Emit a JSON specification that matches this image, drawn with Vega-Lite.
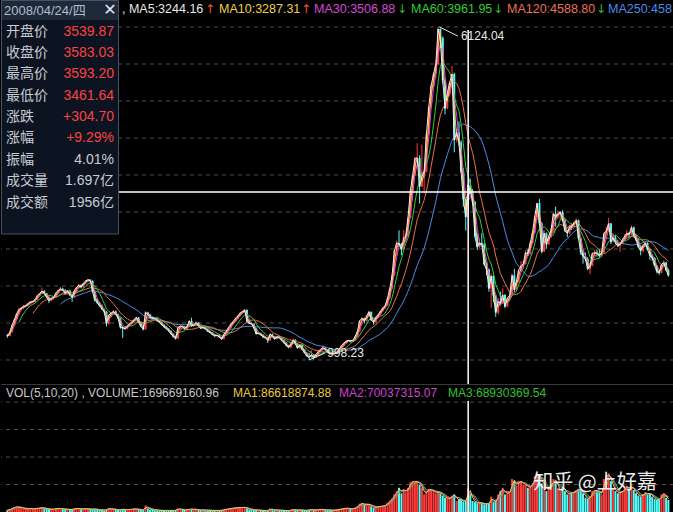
{
"$schema":"https://vega.github.io/schema/vega-lite/v6.json",
"background":"#000000","padding":0,"spacing":0,"bounds":"flush",
"datasets":{"k":[
{"d":"1999-12-23","o":1380,"h":1400,"l":1341,"c":1366,"v":8},
{"d":"2000-01-08","o":1366,"h":1440,"l":1361,"c":1425,"v":12},
{"d":"2000-01-23","o":1425,"h":1545,"l":1420,"c":1535,"v":18},
{"d":"2000-02-08","o":1535,"h":1640,"l":1530,"c":1625,"v":22},
{"d":"2000-02-23","o":1625,"h":1720,"l":1610,"c":1714,"v":24},
{"d":"2000-03-08","o":1714,"h":1795,"l":1690,"c":1775,"v":22},
{"d":"2000-03-23","o":1775,"h":1815,"l":1760,"c":1800,"v":18},
{"d":"2000-04-08","o":1800,"h":1840,"l":1780,"c":1825,"v":16},
{"d":"2000-04-23","o":1825,"h":1850,"l":1805,"c":1836,"v":14},
{"d":"2000-05-08","o":1836,"h":1880,"l":1820,"c":1868,"v":15},
{"d":"2000-05-23","o":1868,"h":1905,"l":1850,"c":1894,"v":16},
{"d":"2000-06-08","o":1894,"h":1915,"l":1870,"c":1898,"v":14},
{"d":"2000-06-23","o":1898,"h":1935,"l":1885,"c":1928,"v":15},
{"d":"2000-07-08","o":1928,"h":2000,"l":1920,"c":1990,"v":18},
{"d":"2000-07-23","o":1990,"h":2030,"l":1975,"c":2023,"v":18},
{"d":"2000-08-08","o":2023,"h":2114,"l":2015,"c":2060,"v":20},
{"d":"2000-08-23","o":2060,"h":2075,"l":2005,"c":2022,"v":16},
{"d":"2000-09-08","o":2022,"h":2030,"l":1950,"c":1962,"v":14},
{"d":"2000-09-23","o":1962,"h":1975,"l":1874,"c":1910,"v":12},
{"d":"2000-10-08","o":1910,"h":1960,"l":1900,"c":1948,"v":12},
{"d":"2000-10-23","o":1948,"h":1975,"l":1930,"c":1961,"v":13},
{"d":"2000-11-08","o":1961,"h":2040,"l":1955,"c":2030,"v":16},
{"d":"2000-11-23","o":2030,"h":2080,"l":2020,"c":2070,"v":17},
{"d":"2000-12-08","o":2070,"h":2125,"l":2060,"c":2095,"v":15},
{"d":"2000-12-23","o":2095,"h":2110,"l":2060,"c":2073,"v":13},
{"d":"2001-01-08","o":2073,"h":2090,"l":2000,"c":2020,"v":12},
{"d":"2001-01-23","o":2020,"h":2070,"l":2010,"c":2065,"v":12},
{"d":"2001-02-08","o":2065,"h":2080,"l":1990,"c":1995,"v":11},
{"d":"2001-02-23","o":1995,"h":2000,"l":1893,"c":1960,"v":12},
{"d":"2001-03-08","o":1960,"h":2070,"l":1955,"c":2060,"v":15},
{"d":"2001-03-23","o":2060,"h":2120,"l":2050,"c":2112,"v":16},
{"d":"2001-04-08","o":2112,"h":2170,"l":2100,"c":2150,"v":16},
{"d":"2001-04-23","o":2150,"h":2165,"l":2100,"c":2119,"v":13},
{"d":"2001-05-08","o":2119,"h":2190,"l":2110,"c":2180,"v":14},
{"d":"2001-05-23","o":2180,"h":2225,"l":2170,"c":2214,"v":15},
{"d":"2001-06-08","o":2214,"h":2245,"l":2200,"c":2235,"v":14},
{"d":"2001-06-23","o":2235,"h":2240,"l":2190,"c":2218,"v":12},
{"d":"2001-07-08","o":2218,"h":2220,"l":2030,"c":2050,"v":13},
{"d":"2001-07-23","o":2050,"h":2065,"l":1900,"c":1920,"v":14},
{"d":"2001-08-08","o":1920,"h":1940,"l":1860,"c":1880,"v":10},
{"d":"2001-08-23","o":1880,"h":1895,"l":1820,"c":1834,"v":9},
{"d":"2001-09-08","o":1834,"h":1850,"l":1770,"c":1780,"v":9},
{"d":"2001-09-23","o":1780,"h":1790,"l":1720,"c":1741,"v":8},
{"d":"2001-10-08","o":1741,"h":1750,"l":1514,"c":1560,"v":11},
{"d":"2001-10-23","o":1560,"h":1700,"l":1540,"c":1690,"v":18},
{"d":"2001-11-08","o":1690,"h":1730,"l":1670,"c":1720,"v":13},
{"d":"2001-11-23","o":1720,"h":1765,"l":1705,"c":1747,"v":12},
{"d":"2001-12-08","o":1747,"h":1760,"l":1690,"c":1700,"v":10},
{"d":"2001-12-23","o":1700,"h":1710,"l":1630,"c":1646,"v":9},
{"d":"2002-01-08","o":1646,"h":1650,"l":1480,"c":1500,"v":11},
{"d":"2002-01-23","o":1500,"h":1510,"l":1339,"c":1491,"v":14},
{"d":"2002-02-08","o":1491,"h":1520,"l":1460,"c":1480,"v":10},
{"d":"2002-02-23","o":1480,"h":1535,"l":1470,"c":1524,"v":10},
{"d":"2002-03-08","o":1524,"h":1560,"l":1510,"c":1550,"v":12},
{"d":"2002-03-23","o":1550,"h":1590,"l":1540,"c":1580,"v":13},
{"d":"2002-04-08","o":1580,"h":1630,"l":1570,"c":1620,"v":14},
{"d":"2002-04-23","o":1620,"h":1665,"l":1610,"c":1654,"v":13},
{"d":"2002-05-08","o":1654,"h":1660,"l":1570,"c":1580,"v":11},
{"d":"2002-05-23","o":1580,"h":1590,"l":1505,"c":1516,"v":10},
{"d":"2002-06-08","o":1516,"h":1525,"l":1455,"c":1470,"v":9},
{"d":"2002-06-23","o":1470,"h":1748,"l":1465,"c":1732,"v":30},
{"d":"2002-07-08","o":1732,"h":1740,"l":1690,"c":1700,"v":16},
{"d":"2002-07-23","o":1700,"h":1710,"l":1640,"c":1651,"v":11},
{"d":"2002-08-08","o":1651,"h":1665,"l":1625,"c":1640,"v":10},
{"d":"2002-08-23","o":1640,"h":1660,"l":1620,"c":1637,"v":9},
{"d":"2002-09-08","o":1637,"h":1645,"l":1590,"c":1600,"v":8},
{"d":"2002-09-23","o":1600,"h":1610,"l":1570,"c":1581,"v":7},
{"d":"2002-10-08","o":1581,"h":1590,"l":1530,"c":1540,"v":7},
{"d":"2002-10-23","o":1540,"h":1550,"l":1495,"c":1507,"v":7},
{"d":"2002-11-08","o":1507,"h":1520,"l":1470,"c":1480,"v":7},
{"d":"2002-11-23","o":1480,"h":1490,"l":1435,"c":1445,"v":7},
{"d":"2002-12-08","o":1445,"h":1455,"l":1390,"c":1400,"v":7},
{"d":"2002-12-23","o":1400,"h":1410,"l":1345,"c":1357,"v":7},
{"d":"2003-01-08","o":1357,"h":1370,"l":1311,"c":1330,"v":8},
{"d":"2003-01-23","o":1330,"h":1510,"l":1325,"c":1499,"v":16},
{"d":"2003-02-08","o":1499,"h":1530,"l":1490,"c":1520,"v":13},
{"d":"2003-02-23","o":1520,"h":1530,"l":1495,"c":1512,"v":10},
{"d":"2003-03-08","o":1512,"h":1520,"l":1470,"c":1480,"v":9},
{"d":"2003-03-23","o":1480,"h":1520,"l":1465,"c":1510,"v":10},
{"d":"2003-04-08","o":1510,"h":1615,"l":1505,"c":1600,"v":14},
{"d":"2003-04-23","o":1600,"h":1649,"l":1510,"c":1521,"v":13},
{"d":"2003-05-08","o":1521,"h":1550,"l":1510,"c":1540,"v":11},
{"d":"2003-05-23","o":1540,"h":1590,"l":1530,"c":1576,"v":12},
{"d":"2003-06-08","o":1576,"h":1580,"l":1510,"c":1520,"v":9},
{"d":"2003-06-23","o":1520,"h":1530,"l":1475,"c":1487,"v":8},
{"d":"2003-07-08","o":1487,"h":1515,"l":1480,"c":1500,"v":9},
{"d":"2003-07-23","o":1500,"h":1510,"l":1465,"c":1477,"v":8},
{"d":"2003-08-08","o":1477,"h":1485,"l":1430,"c":1440,"v":8},
{"d":"2003-08-23","o":1440,"h":1450,"l":1410,"c":1421,"v":7},
{"d":"2003-09-08","o":1421,"h":1430,"l":1380,"c":1390,"v":7},
{"d":"2003-09-23","o":1390,"h":1400,"l":1355,"c":1367,"v":7},
{"d":"2003-10-08","o":1367,"h":1395,"l":1360,"c":1380,"v":7},
{"d":"2003-10-23","o":1380,"h":1390,"l":1340,"c":1348,"v":7},
{"d":"2003-11-08","o":1348,"h":1355,"l":1307,"c":1320,"v":8},
{"d":"2003-11-23","o":1320,"h":1405,"l":1315,"c":1397,"v":11},
{"d":"2003-12-08","o":1397,"h":1450,"l":1390,"c":1440,"v":13},
{"d":"2003-12-23","o":1440,"h":1505,"l":1430,"c":1497,"v":15},
{"d":"2004-01-08","o":1497,"h":1560,"l":1490,"c":1550,"v":17},
{"d":"2004-01-23","o":1550,"h":1600,"l":1540,"c":1590,"v":17},
{"d":"2004-02-08","o":1590,"h":1650,"l":1580,"c":1640,"v":20},
{"d":"2004-02-23","o":1640,"h":1685,"l":1630,"c":1675,"v":20},
{"d":"2004-03-08","o":1675,"h":1730,"l":1660,"c":1720,"v":21},
{"d":"2004-03-23","o":1720,"h":1755,"l":1700,"c":1742,"v":20},
{"d":"2004-04-08","o":1742,"h":1783,"l":1730,"c":1770,"v":22},
{"d":"2004-04-23","o":1770,"h":1775,"l":1580,"c":1595,"v":16},
{"d":"2004-05-08","o":1595,"h":1610,"l":1550,"c":1560,"v":11},
{"d":"2004-05-23","o":1560,"h":1580,"l":1540,"c":1555,"v":10},
{"d":"2004-06-08","o":1555,"h":1560,"l":1480,"c":1490,"v":9},
{"d":"2004-06-23","o":1490,"h":1495,"l":1390,"c":1400,"v":9},
{"d":"2004-07-08","o":1400,"h":1425,"l":1390,"c":1410,"v":8},
{"d":"2004-07-23","o":1410,"h":1420,"l":1375,"c":1386,"v":7},
{"d":"2004-08-08","o":1386,"h":1395,"l":1340,"c":1350,"v":7},
{"d":"2004-08-23","o":1350,"h":1365,"l":1330,"c":1342,"v":6},
{"d":"2004-09-08","o":1342,"h":1350,"l":1259,"c":1300,"v":7},
{"d":"2004-09-23","o":1300,"h":1410,"l":1295,"c":1396,"v":16},
{"d":"2004-10-08","o":1396,"h":1405,"l":1350,"c":1360,"v":10},
{"d":"2004-10-23","o":1360,"h":1370,"l":1310,"c":1320,"v":8},
{"d":"2004-11-08","o":1320,"h":1370,"l":1315,"c":1360,"v":9},
{"d":"2004-11-23","o":1360,"h":1370,"l":1330,"c":1340,"v":8},
{"d":"2004-12-08","o":1340,"h":1345,"l":1290,"c":1300,"v":7},
{"d":"2004-12-23","o":1300,"h":1310,"l":1255,"c":1266,"v":7},
{"d":"2005-01-08","o":1266,"h":1275,"l":1210,"c":1220,"v":6},
{"d":"2005-01-23","o":1220,"h":1230,"l":1180,"c":1191,"v":7},
{"d":"2005-02-08","o":1191,"h":1260,"l":1176,"c":1250,"v":9},
{"d":"2005-02-23","o":1250,"h":1330,"l":1245,"c":1306,"v":12},
{"d":"2005-03-08","o":1306,"h":1320,"l":1240,"c":1250,"v":9},
{"d":"2005-03-23","o":1250,"h":1260,"l":1175,"c":1181,"v":8},
{"d":"2005-04-08","o":1181,"h":1240,"l":1170,"c":1230,"v":9},
{"d":"2005-04-23","o":1230,"h":1240,"l":1150,"c":1159,"v":8},
{"d":"2005-05-08","o":1159,"h":1165,"l":1100,"c":1110,"v":7},
{"d":"2005-05-23","o":1110,"h":1120,"l":1050,"c":1060,"v":7},
{"d":"2005-06-08","o":1060,"h":1110,"l":998.23,"c":1040,"v":10},
{"d":"2005-06-23","o":1040,"h":1150,"l":1030,"c":1080,"v":12},
{"d":"2005-07-08","o":1080,"h":1090,"l":1004,"c":1030,"v":8},
{"d":"2005-07-23","o":1030,"h":1090,"l":1025,"c":1083,"v":9},
{"d":"2005-08-08","o":1083,"h":1140,"l":1075,"c":1130,"v":11},
{"d":"2005-08-23","o":1130,"h":1170,"l":1120,"c":1162,"v":12},
{"d":"2005-09-08","o":1162,"h":1223,"l":1155,"c":1190,"v":12},
{"d":"2005-09-23","o":1190,"h":1195,"l":1145,"c":1155,"v":9},
{"d":"2005-10-08","o":1155,"h":1160,"l":1110,"c":1120,"v":8},
{"d":"2005-10-23","o":1120,"h":1130,"l":1085,"c":1092,"v":8},
{"d":"2005-11-08","o":1092,"h":1100,"l":1074,"c":1090,"v":8},
{"d":"2005-11-23","o":1090,"h":1110,"l":1080,"c":1099,"v":8},
{"d":"2005-12-08","o":1099,"h":1130,"l":1095,"c":1120,"v":10},
{"d":"2005-12-23","o":1120,"h":1170,"l":1115,"c":1161,"v":12},
{"d":"2006-01-08","o":1161,"h":1230,"l":1158,"c":1220,"v":15},
{"d":"2006-01-23","o":1220,"h":1265,"l":1210,"c":1258,"v":16},
{"d":"2006-02-08","o":1258,"h":1300,"l":1250,"c":1290,"v":18},
{"d":"2006-02-23","o":1290,"h":1310,"l":1275,"c":1299,"v":16},
{"d":"2006-03-08","o":1299,"h":1305,"l":1270,"c":1290,"v":14},
{"d":"2006-03-23","o":1290,"h":1305,"l":1280,"c":1298,"v":14},
{"d":"2006-04-08","o":1298,"h":1370,"l":1295,"c":1360,"v":20},
{"d":"2006-04-23","o":1360,"h":1445,"l":1355,"c":1440,"v":26},
{"d":"2006-05-08","o":1440,"h":1610,"l":1435,"c":1600,"v":38},
{"d":"2006-05-23","o":1600,"h":1660,"l":1540,"c":1641,"v":40},
{"d":"2006-06-08","o":1641,"h":1650,"l":1560,"c":1600,"v":32},
{"d":"2006-06-23","o":1600,"h":1690,"l":1590,"c":1672,"v":34},
{"d":"2006-07-08","o":1672,"h":1757,"l":1665,"c":1740,"v":36},
{"d":"2006-07-23","o":1740,"h":1745,"l":1600,"c":1612,"v":26},
{"d":"2006-08-08","o":1612,"h":1620,"l":1541,"c":1580,"v":20},
{"d":"2006-08-23","o":1580,"h":1665,"l":1575,"c":1658,"v":22},
{"d":"2006-09-08","o":1658,"h":1710,"l":1650,"c":1700,"v":25},
{"d":"2006-09-23","o":1700,"h":1760,"l":1690,"c":1752,"v":26},
{"d":"2006-10-08","o":1752,"h":1810,"l":1745,"c":1800,"v":28},
{"d":"2006-10-23","o":1800,"h":1845,"l":1790,"c":1837,"v":30},
{"d":"2006-11-08","o":1837,"h":1960,"l":1830,"c":1950,"v":42},
{"d":"2006-11-23","o":1950,"h":2110,"l":1940,"c":2099,"v":52},
{"d":"2006-12-08","o":2099,"h":2310,"l":2090,"c":2300,"v":62},
{"d":"2006-12-23","o":2300,"h":2698,"l":2290,"c":2675,"v":80},
{"d":"2007-01-08","o":2675,"h":2840,"l":2600,"c":2800,"v":95},
{"d":"2007-01-23","o":2800,"h":2994,"l":2740,"c":2786,"v":110},
{"d":"2007-02-08","o":2786,"h":2800,"l":2612,"c":2700,"v":85},
{"d":"2007-02-23","o":2700,"h":2998,"l":2690,"c":2881,"v":105},
{"d":"2007-03-08","o":2881,"h":2940,"l":2830,"c":2900,"v":90},
{"d":"2007-03-23","o":2900,"h":3200,"l":2890,"c":3183,"v":110},
{"d":"2007-04-08","o":3183,"h":3620,"l":3180,"c":3600,"v":135},
{"d":"2007-04-23","o":3600,"h":3860,"l":3450,"c":3841,"v":140},
{"d":"2007-05-08","o":3841,"h":4120,"l":3830,"c":4100,"v":135},
{"d":"2007-05-23","o":4100,"h":4335,"l":4080,"c":4109,"v":140},
{"d":"2007-06-08","o":4109,"h":4150,"l":3404,"c":3670,"v":125},
{"d":"2007-06-23","o":3670,"h":4312,"l":3660,"c":3820,"v":110},
{"d":"2007-07-08","o":3820,"h":3920,"l":3563,"c":3900,"v":80},
{"d":"2007-07-23","o":3900,"h":4490,"l":3890,"c":4471,"v":95},
{"d":"2007-08-08","o":4471,"h":4910,"l":4460,"c":4900,"v":105},
{"d":"2007-08-23","o":4900,"h":5240,"l":4870,"c":5218,"v":100},
{"d":"2007-09-08","o":5218,"h":5420,"l":5200,"c":5400,"v":95},
{"d":"2007-09-23","o":5400,"h":5570,"l":5340,"c":5552,"v":85},
{"d":"2007-10-08","o":5552,"h":6124.04,"l":5540,"c":6092,"v":95},
{"d":"2007-10-23","o":6092,"h":6100,"l":5800,"c":5954,"v":85},
{"d":"2007-11-08","o":5954,"h":5980,"l":5250,"c":5300,"v":75},
{"d":"2007-11-23","o":5300,"h":5320,"l":4778,"c":4871,"v":65},
{"d":"2007-12-08","o":4871,"h":5120,"l":4860,"c":5100,"v":62},
{"d":"2007-12-23","o":5100,"h":5280,"l":5050,"c":5261,"v":60},
{"d":"2008-01-08","o":5261,"h":5522,"l":5250,"c":5400,"v":75},
{"d":"2008-01-23","o":5400,"h":5420,"l":4195,"c":4383,"v":80},
{"d":"2008-02-08","o":4383,"h":4560,"l":4350,"c":4500,"v":50},
{"d":"2008-02-23","o":4500,"h":4670,"l":4300,"c":4348,"v":58},
{"d":"2008-03-08","o":4348,"h":4380,"l":3880,"c":3900,"v":55},
{"d":"2008-03-23","o":3900,"h":3950,"l":3357,"c":3472,"v":48},
{"d":"2008-04-08","o":3472,"h":3500,"l":2990,"c":3200,"v":50},
{"d":"2008-04-23","o":3200,"h":3700,"l":3180,"c":3693,"v":110},
{"d":"2008-05-08","o":3693,"h":3786,"l":3550,"c":3600,"v":85},
{"d":"2008-05-23","o":3600,"h":3630,"l":3380,"c":3433,"v":50},
{"d":"2008-06-08","o":3433,"h":3440,"l":2880,"c":2900,"v":45},
{"d":"2008-06-23","o":2900,"h":2950,"l":2693,"c":2736,"v":40},
{"d":"2008-07-08","o":2736,"h":2870,"l":2720,"c":2800,"v":42},
{"d":"2008-07-23","o":2800,"h":2952,"l":2750,"c":2775,"v":40},
{"d":"2008-08-08","o":2775,"h":2800,"l":2450,"c":2470,"v":35},
{"d":"2008-08-23","o":2470,"h":2500,"l":2300,"c":2397,"v":38},
{"d":"2008-09-08","o":2397,"h":2400,"l":2050,"c":2100,"v":40},
{"d":"2008-09-23","o":2100,"h":2333,"l":1802,"c":2293,"v":70},
{"d":"2008-10-08","o":2293,"h":2300,"l":1890,"c":1990,"v":45},
{"d":"2008-10-23","o":1990,"h":2000,"l":1664,"c":1729,"v":50},
{"d":"2008-11-08","o":1729,"h":1950,"l":1700,"c":1900,"v":80},
{"d":"2008-11-23","o":1900,"h":2050,"l":1850,"c":1871,"v":95},
{"d":"2008-12-08","o":1871,"h":2100,"l":1860,"c":2000,"v":110},
{"d":"2008-12-23","o":2000,"h":2010,"l":1800,"c":1821,"v":80},
{"d":"2009-01-08","o":1821,"h":1960,"l":1814,"c":1950,"v":90},
{"d":"2009-01-23","o":1950,"h":2000,"l":1900,"c":1991,"v":85},
{"d":"2009-02-08","o":1991,"h":2330,"l":1985,"c":2300,"v":150},
{"d":"2009-02-23","o":2300,"h":2402,"l":2037,"c":2082,"v":140},
{"d":"2009-03-08","o":2082,"h":2220,"l":2070,"c":2200,"v":120},
{"d":"2009-03-23","o":2200,"h":2390,"l":2190,"c":2373,"v":140},
{"d":"2009-04-08","o":2373,"h":2520,"l":2360,"c":2450,"v":140},
{"d":"2009-04-23","o":2450,"h":2530,"l":2400,"c":2477,"v":125},
{"d":"2009-05-08","o":2477,"h":2690,"l":2470,"c":2650,"v":125},
{"d":"2009-05-23","o":2650,"h":2700,"l":2600,"c":2633,"v":110},
{"d":"2009-06-08","o":2633,"h":2820,"l":2620,"c":2800,"v":115},
{"d":"2009-06-23","o":2800,"h":2970,"l":2790,"c":2959,"v":130},
{"d":"2009-07-08","o":2959,"h":3220,"l":2950,"c":3200,"v":160},
{"d":"2009-07-23","o":3200,"h":3420,"l":3150,"c":3412,"v":175},
{"d":"2009-08-08","o":3412,"h":3478,"l":3080,"c":3100,"v":165},
{"d":"2009-08-23","o":3100,"h":3120,"l":2639,"c":2667,"v":130},
{"d":"2009-09-08","o":2667,"h":3000,"l":2660,"c":2950,"v":125},
{"d":"2009-09-23","o":2950,"h":2960,"l":2712,"c":2779,"v":95},
{"d":"2009-10-08","o":2779,"h":2920,"l":2770,"c":2900,"v":110},
{"d":"2009-10-23","o":2900,"h":3030,"l":2880,"c":2996,"v":120},
{"d":"2009-11-08","o":2996,"h":3260,"l":2990,"c":3250,"v":150},
{"d":"2009-11-23","o":3250,"h":3361,"l":3050,"c":3195,"v":140},
{"d":"2009-12-08","o":3195,"h":3300,"l":3170,"c":3250,"v":110},
{"d":"2009-12-23","o":3250,"h":3290,"l":3140,"c":3277,"v":95},
{"d":"2010-01-08","o":3277,"h":3306,"l":3130,"c":3150,"v":115},
{"d":"2010-01-23","o":3150,"h":3170,"l":2970,"c":2989,"v":95},
{"d":"2010-02-08","o":2989,"h":3000,"l":2890,"c":2950,"v":80},
{"d":"2010-02-23","o":2950,"h":3080,"l":2940,"c":3051,"v":85},
{"d":"2010-03-08","o":3051,"h":3100,"l":3000,"c":3050,"v":90},
{"d":"2010-03-23","o":3050,"h":3120,"l":3010,"c":3109,"v":90},
{"d":"2010-04-08","o":3109,"h":3181,"l":3090,"c":3150,"v":100},
{"d":"2010-04-23","o":3150,"h":3160,"l":2850,"c":2870,"v":105},
{"d":"2010-05-08","o":2870,"h":2880,"l":2620,"c":2650,"v":95},
{"d":"2010-05-23","o":2650,"h":2700,"l":2481,"c":2592,"v":85},
{"d":"2010-06-08","o":2592,"h":2650,"l":2530,"c":2550,"v":65},
{"d":"2010-06-23","o":2550,"h":2580,"l":2380,"c":2398,"v":60},
{"d":"2010-07-08","o":2398,"h":2480,"l":2319,"c":2450,"v":65},
{"d":"2010-07-23","o":2450,"h":2650,"l":2440,"c":2638,"v":95},
{"d":"2010-08-08","o":2638,"h":2700,"l":2600,"c":2650,"v":100},
{"d":"2010-08-23","o":2650,"h":2700,"l":2590,"c":2638,"v":95},
{"d":"2010-09-08","o":2638,"h":2700,"l":2570,"c":2600,"v":90},
{"d":"2010-09-23","o":2600,"h":2670,"l":2580,"c":2656,"v":80},
{"d":"2010-10-08","o":2656,"h":2960,"l":2650,"c":2950,"v":150},
{"d":"2010-10-23","o":2950,"h":3050,"l":2920,"c":2979,"v":165},
{"d":"2010-11-08","o":2979,"h":3186,"l":2970,"c":3100,"v":175},
{"d":"2010-11-23","o":3100,"h":3110,"l":2780,"c":2820,"v":140},
{"d":"2010-12-08","o":2820,"h":2940,"l":2810,"c":2880,"v":110},
{"d":"2010-12-23","o":2880,"h":2920,"l":2780,"c":2808,"v":95},
{"d":"2011-01-08","o":2808,"h":2850,"l":2740,"c":2750,"v":85},
{"d":"2011-01-23","o":2750,"h":2800,"l":2661,"c":2790,"v":90},
{"d":"2011-02-08","o":2790,"h":2870,"l":2780,"c":2850,"v":95},
{"d":"2011-02-23","o":2850,"h":2940,"l":2830,"c":2905,"v":110},
{"d":"2011-03-08","o":2905,"h":3000,"l":2890,"c":2950,"v":120},
{"d":"2011-03-23","o":2950,"h":2970,"l":2880,"c":2928,"v":100},
{"d":"2011-04-08","o":2928,"h":3067,"l":2920,"c":3040,"v":120},
{"d":"2011-04-23","o":3040,"h":3050,"l":2890,"c":2911,"v":100},
{"d":"2011-05-08","o":2911,"h":2920,"l":2830,"c":2850,"v":85},
{"d":"2011-05-23","o":2850,"h":2870,"l":2720,"c":2743,"v":75},
{"d":"2011-06-08","o":2743,"h":2760,"l":2610,"c":2680,"v":70},
{"d":"2011-06-23","o":2680,"h":2780,"l":2650,"c":2762,"v":80},
{"d":"2011-07-08","o":2762,"h":2826,"l":2740,"c":2800,"v":90},
{"d":"2011-07-23","o":2800,"h":2810,"l":2690,"c":2701,"v":80},
{"d":"2011-08-08","o":2701,"h":2710,"l":2540,"c":2600,"v":85},
{"d":"2011-08-23","o":2600,"h":2630,"l":2530,"c":2568,"v":70},
{"d":"2011-09-08","o":2568,"h":2580,"l":2440,"c":2450,"v":60},
{"d":"2011-09-23","o":2450,"h":2460,"l":2330,"c":2359,"v":55},
{"d":"2011-10-08","o":2359,"h":2380,"l":2307,"c":2340,"v":55},
{"d":"2011-10-23","o":2340,"h":2480,"l":2330,"c":2468,"v":80},
{"d":"2011-11-08","o":2468,"h":2536,"l":2450,"c":2500,"v":85},
{"d":"2011-11-23","o":2500,"h":2510,"l":2370,"c":2380,"v":65},
{"d":"2011-12-08","o":2380,"h":2400,"l":2280,"c":2300,"v":55}
]},
"vconcat":[
{
"width":673,"height":384,
"data":{"name":"k"},
"layer":[
{"data":{"values":[{}]},
 "layer":[
  {"mark":{"type":"rule","stroke":"#4e4e4e","strokeWidth":1,"strokeDash":[4,4]},"encoding":{"y":{"datum":998.23,"type":"quantitative","axis":null,"scale":{"domain":[628.8,6539.2],"nice":false,"zero":false}}}},
  {"mark":{"type":"rule","stroke":"#4e4e4e","strokeWidth":1,"strokeDash":[4,4]},"encoding":{"y":{"datum":1567.76,"type":"quantitative","axis":null,"scale":{"domain":[628.8,6539.2],"nice":false,"zero":false}}}},
  {"mark":{"type":"rule","stroke":"#4e4e4e","strokeWidth":1,"strokeDash":[4,4]},"encoding":{"y":{"datum":2137.3,"type":"quantitative","axis":null,"scale":{"domain":[628.8,6539.2],"nice":false,"zero":false}}}},
  {"mark":{"type":"rule","stroke":"#4e4e4e","strokeWidth":1,"strokeDash":[4,4]},"encoding":{"y":{"datum":2706.83,"type":"quantitative","axis":null,"scale":{"domain":[628.8,6539.2],"nice":false,"zero":false}}}},
  {"mark":{"type":"rule","stroke":"#4e4e4e","strokeWidth":1,"strokeDash":[4,4]},"encoding":{"y":{"datum":3276.37,"type":"quantitative","axis":null,"scale":{"domain":[628.8,6539.2],"nice":false,"zero":false}}}},
  {"mark":{"type":"rule","stroke":"#4e4e4e","strokeWidth":1,"strokeDash":[4,4]},"encoding":{"y":{"datum":3845.9,"type":"quantitative","axis":null,"scale":{"domain":[628.8,6539.2],"nice":false,"zero":false}}}},
  {"mark":{"type":"rule","stroke":"#4e4e4e","strokeWidth":1,"strokeDash":[4,4]},"encoding":{"y":{"datum":4415.44,"type":"quantitative","axis":null,"scale":{"domain":[628.8,6539.2],"nice":false,"zero":false}}}},
  {"mark":{"type":"rule","stroke":"#4e4e4e","strokeWidth":1,"strokeDash":[4,4]},"encoding":{"y":{"datum":4984.97,"type":"quantitative","axis":null,"scale":{"domain":[628.8,6539.2],"nice":false,"zero":false}}}},
  {"mark":{"type":"rule","stroke":"#4e4e4e","strokeWidth":1,"strokeDash":[4,4]},"encoding":{"y":{"datum":5554.51,"type":"quantitative","axis":null,"scale":{"domain":[628.8,6539.2],"nice":false,"zero":false}}}},
  {"mark":{"type":"rule","stroke":"#4e4e4e","strokeWidth":1,"strokeDash":[4,4]},"encoding":{"y":{"datum":6124.04,"type":"quantitative","axis":null,"scale":{"domain":[628.8,6539.2],"nice":false,"zero":false}}}}
 ]},
{"mark":{"type":"rule","strokeWidth":1},
 "encoding":{
  "x":{"field":"d","type":"temporal","axis":null,"scale":{"domain":[{"year":1999,"month":12,"date":14,"utc":true},{"year":2011,"month":12,"date":12,"utc":true}]}},
  "y":{"field":"l","type":"quantitative","title":null,"axis":null,"scale":{"domain":[628.8,6539.2],"nice":false,"zero":false}},
  "y2":{"field":"h"},
  "color":{"condition":{"test":"datum.c >= datum.o","value":"#ff3c3c"},"value":"#54fcfc"}}},
{"mark":{"type":"bar","size":2},
 "encoding":{
  "x":{"field":"d","type":"temporal","axis":null,"scale":{"domain":[{"year":1999,"month":12,"date":14,"utc":true},{"year":2011,"month":12,"date":12,"utc":true}]}},
  "y":{"field":"o","type":"quantitative","title":null,"axis":null,"scale":{"domain":[628.8,6539.2],"nice":false,"zero":false}},
  "y2":{"field":"c"},
  "color":{"condition":{"test":"datum.c >= datum.o","value":"#ff3c3c"},"value":"#54fcfc"}}},
{"transform":[{"window":[{"op":"mean","field":"c","as":"m"},{"op":"count","as":"n"}],"frame":[-23,0],"sort":[{"field":"d"}]},{"filter":{"field":"n","gte":24}}],
 "mark":{"type":"line","stroke":"#4a8ee8","strokeWidth":1},
 "encoding":{
  "x":{"field":"d","type":"temporal","axis":null,"scale":{"domain":[{"year":1999,"month":12,"date":14,"utc":true},{"year":2011,"month":12,"date":12,"utc":true}]}},
  "y":{"field":"m","type":"quantitative","title":null,"axis":null,"scale":{"domain":[628.8,6539.2],"nice":false,"zero":false}}}},
{"transform":[{"window":[{"op":"mean","field":"c","as":"m"},{"op":"count","as":"n"}],"frame":[-11,0],"sort":[{"field":"d"}]},{"filter":{"field":"n","gte":12}}],
 "mark":{"type":"line","stroke":"#f07040","strokeWidth":1},
 "encoding":{
  "x":{"field":"d","type":"temporal","axis":null,"scale":{"domain":[{"year":1999,"month":12,"date":14,"utc":true},{"year":2011,"month":12,"date":12,"utc":true}]}},
  "y":{"field":"m","type":"quantitative","title":null,"axis":null,"scale":{"domain":[628.8,6539.2],"nice":false,"zero":false}}}},
{"transform":[{"window":[{"op":"mean","field":"c","as":"m"},{"op":"count","as":"n"}],"frame":[-5,0],"sort":[{"field":"d"}]},{"filter":{"field":"n","gte":6}}],
 "mark":{"type":"line","stroke":"#30d030","strokeWidth":1},
 "encoding":{
  "x":{"field":"d","type":"temporal","axis":null,"scale":{"domain":[{"year":1999,"month":12,"date":14,"utc":true},{"year":2011,"month":12,"date":12,"utc":true}]}},
  "y":{"field":"m","type":"quantitative","title":null,"axis":null,"scale":{"domain":[628.8,6539.2],"nice":false,"zero":false}}}},
{"transform":[{"window":[{"op":"mean","field":"c","as":"m"},{"op":"count","as":"n"}],"frame":[-2,0],"sort":[{"field":"d"}]},{"filter":{"field":"n","gte":3}}],
 "mark":{"type":"line","stroke":"#e040e0","strokeWidth":1},
 "encoding":{
  "x":{"field":"d","type":"temporal","axis":null,"scale":{"domain":[{"year":1999,"month":12,"date":14,"utc":true},{"year":2011,"month":12,"date":12,"utc":true}]}},
  "y":{"field":"m","type":"quantitative","title":null,"axis":null,"scale":{"domain":[628.8,6539.2],"nice":false,"zero":false}}}},
{"transform":[{"window":[{"op":"mean","field":"c","as":"m"}],"frame":[-1,0],"sort":[{"field":"d"}]}],
 "mark":{"type":"line","stroke":"#f0d040","strokeWidth":1},
 "encoding":{
  "x":{"field":"d","type":"temporal","axis":null,"scale":{"domain":[{"year":1999,"month":12,"date":14,"utc":true},{"year":2011,"month":12,"date":12,"utc":true}]}},
  "y":{"field":"m","type":"quantitative","title":null,"axis":null,"scale":{"domain":[628.8,6539.2],"nice":false,"zero":false}}}},
{"mark":{"type":"line","stroke":"#f0f0f0","strokeWidth":1},
 "encoding":{
  "x":{"field":"d","type":"temporal","axis":null,"scale":{"domain":[{"year":1999,"month":12,"date":14,"utc":true},{"year":2011,"month":12,"date":12,"utc":true}]}},
  "y":{"field":"c","type":"quantitative","title":null,"axis":null,"scale":{"domain":[628.8,6539.2],"nice":false,"zero":false}}}},
{"data":{"values":[{}]},
 "layer":[
  {"mark":{"type":"rule","stroke":"#ffffff","strokeWidth":1.5},
   "encoding":{"y":{"datum":3583.03,"type":"quantitative","axis":null,"scale":{"domain":[628.8,6539.2],"nice":false,"zero":false}}}},
  {"mark":{"type":"rule","stroke":"#ffffff","strokeWidth":1.5},
   "encoding":{"x":{"datum":{"year":2008,"month":4,"date":24,"utc":true},"type":"temporal","axis":null,"scale":{"domain":[{"year":1999,"month":12,"date":14,"utc":true},{"year":2011,"month":12,"date":12,"utc":true}]}},
    "y":{"datum":6077,"type":"quantitative","axis":null,"scale":{"domain":[628.8,6539.2],"nice":false,"zero":false}},"y2":{"datum":628.8}}},
  {"mark":{"type":"rule","stroke":"#e8e8e8","strokeWidth":1},
   "encoding":{"x":{"datum":{"year":2007,"month":10,"date":16,"utc":true},"type":"temporal","axis":null,"scale":{"domain":[{"year":1999,"month":12,"date":14,"utc":true},{"year":2011,"month":12,"date":12,"utc":true}]}},
    "x2":{"datum":{"year":2008,"month":2,"date":16,"utc":true}},
    "y":{"datum":6124.04,"type":"quantitative","axis":null,"scale":{"domain":[628.8,6539.2],"nice":false,"zero":false}},"y2":{"datum":5985}}},
  {"mark":{"type":"text","align":"left","baseline":"middle","dx":3,"fontSize":12,"font":"Liberation Sans","color":"#e8e8e8"},
   "encoding":{"x":{"datum":{"year":2008,"month":2,"date":16,"utc":true},"type":"temporal","axis":null,"scale":{"domain":[{"year":1999,"month":12,"date":14,"utc":true},{"year":2011,"month":12,"date":12,"utc":true}]}},
    "y":{"datum":5985,"type":"quantitative","axis":null,"scale":{"domain":[628.8,6539.2],"nice":false,"zero":false}},"text":{"value":"6124.04"}}},
  {"mark":{"type":"rule","stroke":"#e8e8e8","strokeWidth":1},
   "encoding":{"x":{"datum":{"year":2005,"month":6,"date":6,"utc":true},"type":"temporal","axis":null,"scale":{"domain":[{"year":1999,"month":12,"date":14,"utc":true},{"year":2011,"month":12,"date":12,"utc":true}]}},
    "x2":{"datum":{"year":2005,"month":9,"date":22,"utc":true}},
    "y":{"datum":998.23,"type":"quantitative","axis":null,"scale":{"domain":[628.8,6539.2],"nice":false,"zero":false}},"y2":{"datum":1106}}},
  {"mark":{"type":"text","align":"left","baseline":"middle","dx":2,"fontSize":12,"font":"Liberation Sans","color":"#e8e8e8"},
   "encoding":{"x":{"datum":{"year":2005,"month":9,"date":22,"utc":true},"type":"temporal","axis":null,"scale":{"domain":[{"year":1999,"month":12,"date":14,"utc":true},{"year":2011,"month":12,"date":12,"utc":true}]}},
    "y":{"datum":1106,"type":"quantitative","axis":null,"scale":{"domain":[628.8,6539.2],"nice":false,"zero":false}},"text":{"value":"998.23"}}},
  {"mark":{"type":"rect","fill":"#0c1421","stroke":"#46525f","strokeWidth":1},"encoding":{"x":{"value":0.5},"x2":{"value":117.5},"y":{"value":0.5},"y2":{"value":234}}},
  {"mark":{"type":"rect","fill":"#1e2a3a"},"encoding":{"x":{"value":1},"x2":{"value":117},"y":{"value":1},"y2":{"value":20}}},
  {"mark":{"type":"text","align":"left","baseline":"middle","fontSize":13,"font":"Liberation Sans, Noto Sans CJK SC","color":"#b4bcc8"},"encoding":{"x":{"value":3},"y":{"value":11},"text":{"value":"2008/04/24/四"}}},
  {"mark":{"type":"text","align":"center","baseline":"middle","fontSize":16,"fontWeight":"bold","font":"DejaVu Sans","color":"#e4e8f0"},"encoding":{"x":{"value":109},"y":{"value":10},"text":{"value":"✕"}}},
  {"mark":{"type":"text","align":"left","baseline":"middle","fontSize":14,"font":"Noto Sans CJK SC","color":"#c8ccd2"},"encoding":{"x":{"value":5},"y":{"value":32},"text":{"value":"开盘价"}}},
  {"mark":{"type":"text","align":"left","baseline":"middle","fontSize":14,"font":"Noto Sans CJK SC","color":"#c8ccd2"},"encoding":{"x":{"value":5},"y":{"value":53},"text":{"value":"收盘价"}}},
  {"mark":{"type":"text","align":"left","baseline":"middle","fontSize":14,"font":"Noto Sans CJK SC","color":"#c8ccd2"},"encoding":{"x":{"value":5},"y":{"value":74},"text":{"value":"最高价"}}},
  {"mark":{"type":"text","align":"left","baseline":"middle","fontSize":14,"font":"Noto Sans CJK SC","color":"#c8ccd2"},"encoding":{"x":{"value":5},"y":{"value":96},"text":{"value":"最低价"}}},
  {"mark":{"type":"text","align":"left","baseline":"middle","fontSize":14,"font":"Noto Sans CJK SC","color":"#c8ccd2"},"encoding":{"x":{"value":5},"y":{"value":117},"text":{"value":"涨跌"}}},
  {"mark":{"type":"text","align":"left","baseline":"middle","fontSize":14,"font":"Noto Sans CJK SC","color":"#c8ccd2"},"encoding":{"x":{"value":5},"y":{"value":138},"text":{"value":"涨幅"}}},
  {"mark":{"type":"text","align":"left","baseline":"middle","fontSize":14,"font":"Noto Sans CJK SC","color":"#c8ccd2"},"encoding":{"x":{"value":5},"y":{"value":160},"text":{"value":"振幅"}}},
  {"mark":{"type":"text","align":"left","baseline":"middle","fontSize":14,"font":"Noto Sans CJK SC","color":"#c8ccd2"},"encoding":{"x":{"value":5},"y":{"value":181},"text":{"value":"成交量"}}},
  {"mark":{"type":"text","align":"left","baseline":"middle","fontSize":14,"font":"Noto Sans CJK SC","color":"#c8ccd2"},"encoding":{"x":{"value":5},"y":{"value":203},"text":{"value":"成交额"}}},
  {"mark":{"type":"text","align":"right","baseline":"middle","fontSize":14,"font":"Liberation Sans, Noto Sans CJK SC","color":"#ff4040"},"encoding":{"x":{"value":113},"y":{"value":32},"text":{"value":"3539.87"}}},
  {"mark":{"type":"text","align":"right","baseline":"middle","fontSize":14,"font":"Liberation Sans, Noto Sans CJK SC","color":"#ff4040"},"encoding":{"x":{"value":113},"y":{"value":53},"text":{"value":"3583.03"}}},
  {"mark":{"type":"text","align":"right","baseline":"middle","fontSize":14,"font":"Liberation Sans, Noto Sans CJK SC","color":"#ff4040"},"encoding":{"x":{"value":113},"y":{"value":74},"text":{"value":"3593.20"}}},
  {"mark":{"type":"text","align":"right","baseline":"middle","fontSize":14,"font":"Liberation Sans, Noto Sans CJK SC","color":"#ff4040"},"encoding":{"x":{"value":113},"y":{"value":96},"text":{"value":"3461.64"}}},
  {"mark":{"type":"text","align":"right","baseline":"middle","fontSize":14,"font":"Liberation Sans, Noto Sans CJK SC","color":"#ff4040"},"encoding":{"x":{"value":113},"y":{"value":117},"text":{"value":"+304.70"}}},
  {"mark":{"type":"text","align":"right","baseline":"middle","fontSize":14,"font":"Liberation Sans, Noto Sans CJK SC","color":"#ff4040"},"encoding":{"x":{"value":113},"y":{"value":138},"text":{"value":"+9.29%"}}},
  {"mark":{"type":"text","align":"right","baseline":"middle","fontSize":14,"font":"Liberation Sans, Noto Sans CJK SC","color":"#c8ccd2"},"encoding":{"x":{"value":113},"y":{"value":160},"text":{"value":"4.01%"}}},
  {"mark":{"type":"text","align":"right","baseline":"middle","fontSize":14,"font":"Liberation Sans, Noto Sans CJK SC","color":"#c8ccd2"},"encoding":{"x":{"value":113},"y":{"value":181},"text":{"value":"1.697亿"}}},
  {"mark":{"type":"text","align":"right","baseline":"middle","fontSize":14,"font":"Liberation Sans, Noto Sans CJK SC","color":"#c8ccd2"},"encoding":{"x":{"value":113},"y":{"value":203},"text":{"value":"1956亿"}}},
  {"mark":{"type":"text","align":"left","baseline":"middle","fontSize":12.5,"font":"Liberation Sans","color":"#e8e8e8"},"encoding":{"x":{"value":121},"y":{"value":9},"text":{"value":", MA5:3244.16"}}},
  {"mark":{"type":"text","align":"left","baseline":"middle","fontSize":12,"font":"DejaVu Sans","color":"#ff5030"},"encoding":{"x":{"value":204},"y":{"value":9},"text":{"value":"↑"}}},
  {"mark":{"type":"text","align":"left","baseline":"middle","fontSize":12.5,"font":"Liberation Sans","color":"#f0d040"},"encoding":{"x":{"value":218},"y":{"value":9},"text":{"value":"MA10:3287.31"}}},
  {"mark":{"type":"text","align":"left","baseline":"middle","fontSize":12,"font":"DejaVu Sans","color":"#ff5030"},"encoding":{"x":{"value":300},"y":{"value":9},"text":{"value":"↑"}}},
  {"mark":{"type":"text","align":"left","baseline":"middle","fontSize":12.5,"font":"Liberation Sans","color":"#d848d8"},"encoding":{"x":{"value":313},"y":{"value":9},"text":{"value":"MA30:3506.88"}}},
  {"mark":{"type":"text","align":"left","baseline":"middle","fontSize":12,"font":"DejaVu Sans","color":"#20c020"},"encoding":{"x":{"value":396},"y":{"value":9},"text":{"value":"↓"}}},
  {"mark":{"type":"text","align":"left","baseline":"middle","fontSize":12.5,"font":"Liberation Sans","color":"#30cc30"},"encoding":{"x":{"value":410},"y":{"value":9},"text":{"value":"MA60:3961.95"}}},
  {"mark":{"type":"text","align":"left","baseline":"middle","fontSize":12,"font":"DejaVu Sans","color":"#20c020"},"encoding":{"x":{"value":492},"y":{"value":9},"text":{"value":"↓"}}},
  {"mark":{"type":"text","align":"left","baseline":"middle","fontSize":12.5,"font":"Liberation Sans","color":"#f07050"},"encoding":{"x":{"value":506},"y":{"value":9},"text":{"value":"MA120:4588.80"}}},
  {"mark":{"type":"text","align":"left","baseline":"middle","fontSize":12,"font":"DejaVu Sans","color":"#20c020"},"encoding":{"x":{"value":595},"y":{"value":9},"text":{"value":"↓"}}},
  {"mark":{"type":"text","align":"left","baseline":"middle","fontSize":12.5,"font":"Liberation Sans","color":"#4a8ee8"},"encoding":{"x":{"value":607},"y":{"value":9},"text":{"value":"MA250:458"}}}
 ]}
]
},
{
"width":673,"height":128,
"data":{"name":"k"},
"layer":[
{"data":{"values":[{}]},
 "layer":[
  {"mark":{"type":"rule","stroke":"#4e4e4e","strokeWidth":1,"strokeDash":[4,4]},"encoding":{"y":{"datum":125,"type":"quantitative","axis":null,"scale":{"domain":[0,582],"nice":false}}}},
  {"mark":{"type":"rule","stroke":"#4e4e4e","strokeWidth":1,"strokeDash":[4,4]},"encoding":{"y":{"datum":250,"type":"quantitative","axis":null,"scale":{"domain":[0,582],"nice":false}}}},
  {"mark":{"type":"rule","stroke":"#4e4e4e","strokeWidth":1,"strokeDash":[4,4]},"encoding":{"y":{"datum":375,"type":"quantitative","axis":null,"scale":{"domain":[0,582],"nice":false}}}},
  {"mark":{"type":"rule","stroke":"#4e4e4e","strokeWidth":1,"strokeDash":[4,4]},"encoding":{"y":{"datum":500,"type":"quantitative","axis":null,"scale":{"domain":[0,582],"nice":false}}}}
 ]},
{"mark":{"type":"bar","size":2},
 "encoding":{
  "x":{"field":"d","type":"temporal","axis":null,"scale":{"domain":[{"year":1999,"month":12,"date":14,"utc":true},{"year":2011,"month":12,"date":12,"utc":true}]}},
  "y":{"field":"v","type":"quantitative","title":null,"axis":null,"scale":{"domain":[0,582],"nice":false}},
  "color":{"condition":{"test":"datum.c >= datum.o","value":"#ff3c3c"},"value":"#54fcfc"}}},
{"transform":[{"window":[{"op":"mean","field":"v","as":"m"}],"frame":[-3,0],"sort":[{"field":"d"}]}],
 "mark":{"type":"line","stroke":"#30d030","strokeWidth":1},
 "encoding":{
  "x":{"field":"d","type":"temporal","axis":null,"scale":{"domain":[{"year":1999,"month":12,"date":14,"utc":true},{"year":2011,"month":12,"date":12,"utc":true}]}},
  "y":{"field":"m","type":"quantitative","title":null,"axis":null,"scale":{"domain":[0,582],"nice":false}}}},
{"transform":[{"window":[{"op":"mean","field":"v","as":"m"}],"frame":[-2,0],"sort":[{"field":"d"}]}],
 "mark":{"type":"line","stroke":"#d848d8","strokeWidth":1},
 "encoding":{
  "x":{"field":"d","type":"temporal","axis":null,"scale":{"domain":[{"year":1999,"month":12,"date":14,"utc":true},{"year":2011,"month":12,"date":12,"utc":true}]}},
  "y":{"field":"m","type":"quantitative","title":null,"axis":null,"scale":{"domain":[0,582],"nice":false}}}},
{"transform":[{"window":[{"op":"mean","field":"v","as":"m"}],"frame":[-1,0],"sort":[{"field":"d"}]}],
 "mark":{"type":"line","stroke":"#f0d040","strokeWidth":1},
 "encoding":{
  "x":{"field":"d","type":"temporal","axis":null,"scale":{"domain":[{"year":1999,"month":12,"date":14,"utc":true},{"year":2011,"month":12,"date":12,"utc":true}]}},
  "y":{"field":"m","type":"quantitative","title":null,"axis":null,"scale":{"domain":[0,582],"nice":false}}}},
{"data":{"values":[{}]},
 "layer":[
  {"mark":{"type":"rule","stroke":"#3c3c3c","strokeWidth":1},
   "encoding":{"y":{"datum":580,"type":"quantitative","axis":null,"scale":{"domain":[0,582],"nice":false}}}},
  {"mark":{"type":"rule","stroke":"#ffffff","strokeWidth":1.5},
   "encoding":{"x":{"datum":{"year":2008,"month":4,"date":24,"utc":true},"type":"temporal","axis":null,"scale":{"domain":[{"year":1999,"month":12,"date":14,"utc":true},{"year":2011,"month":12,"date":12,"utc":true}]}},
    "y":{"datum":0,"type":"quantitative","axis":null,"scale":{"domain":[0,582],"nice":false}},"y2":{"datum":505}}},
  {"mark":{"type":"text","align":"left","baseline":"middle","fontSize":12,"font":"Liberation Sans","color":"#c8c8c8"},"encoding":{"x":{"value":5},"y":{"value":9},"text":{"value":"VOL(5,10,20) , VOLUME:169669160.96"}}},
  {"mark":{"type":"text","align":"left","baseline":"middle","fontSize":12,"font":"Liberation Sans","color":"#e8c840"},"encoding":{"x":{"value":232},"y":{"value":9},"text":{"value":"MA1:86618874.88"}}},
  {"mark":{"type":"text","align":"left","baseline":"middle","fontSize":12,"font":"Liberation Sans","color":"#d040d0"},"encoding":{"x":{"value":338},"y":{"value":9},"text":{"value":"MA2:70037315.07"}}},
  {"mark":{"type":"text","align":"left","baseline":"middle","fontSize":12,"font":"Liberation Sans","color":"#30c030"},"encoding":{"x":{"value":447},"y":{"value":9},"text":{"value":"MA3:68930369.54"}}},
  {"mark":{"type":"text","align":"center","baseline":"middle","fontSize":20,"font":"Noto Sans CJK SC","color":"#ffffff","opacity":0.92},"encoding":{"x":{"value":594},"y":{"value":99},"text":{"value":"知乎 @上好嘉"}}}
 ]}
]
}
],
"config":{"view":{"stroke":null}}
}
